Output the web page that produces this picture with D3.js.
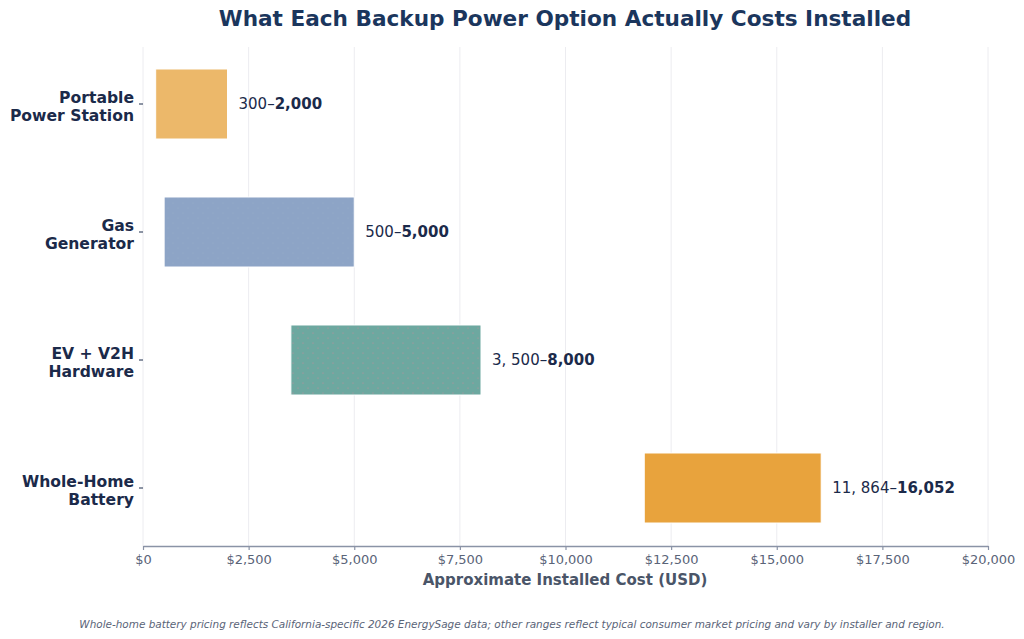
<!DOCTYPE html>
<html>
<head>
    <meta charset="utf-8">
    <title>Backup Power Costs</title>
    <script src="https://d3js.org/d3.v7.min.js"></script>
    <style>
        html, body { margin: 0; padding: 0; background: white; }
        svg { display: block; font-family: "DejaVu Sans", sans-serif; }
    </style>
</head>
<body>
    <div id="chart"></div>
    <script>
        // data
        const options = ["Portable Power Station", "Gas Generator", "EV + V2H Hardware", "Whole-Home Battery"];
        const optionLines = [["Portable", "Power Station"], ["Gas", "Generator"], ["EV + V2H", "Hardware"], ["Whole-Home", "Battery"]];
        const lowCost = [300, 500, 3500, 11864];
        const highCost = [2000, 5000, 8000, 16052];
        const lowLabels = ["300–", "500–", "3, 500–", "11, 864–"];
        const highLabels = ["2,000", "5,000", "8,000", "16,052"];
        const barColors = ["#ECB86A", "#8DA4C6", "#6DA8A0", "#E8A33D"];
        const xTicks = [0, 2500, 5000, 7500, 10000, 12500, 15000, 17500, 20000];

        const W = 1024, H = 639;
        const margin = { top: 47, right: 36, bottom: 93, left: 143 };
        const plotBottom = H - margin.bottom;

        const svg = d3.select("#chart").append("svg")
            .attr("width", W).attr("height", H);

        svg.append("rect").attr("width", W).attr("height", H).attr("fill", "white");

        // faint dot patterns seen in two of the bars
        const defs = svg.append("defs");
        const pat = defs.append("pattern").attr("id", "dotsEV")
            .attr("patternUnits", "userSpaceOnUse").attr("width", 10).attr("height", 10);
        pat.append("rect").attr("width", 10).attr("height", 10).attr("fill", "#6DA8A0");
        pat.append("circle").attr("cx", 3).attr("cy", 3).attr("r", 0.6).attr("fill", "#C98A9A");
        pat.append("circle").attr("cx", 8).attr("cy", 8).attr("r", 0.6).attr("fill", "#C98A9A");
        const pat2 = defs.append("pattern").attr("id", "dotsGas")
            .attr("patternUnits", "userSpaceOnUse").attr("width", 10).attr("height", 10);
        pat2.append("rect").attr("width", 10).attr("height", 10).attr("fill", "#8DA4C6");
        pat2.append("circle").attr("cx", 3).attr("cy", 3).attr("r", 0.6).attr("fill", "#98B0C8");
        pat2.append("circle").attr("cx", 8).attr("cy", 8).attr("r", 0.6).attr("fill", "#98B0C8");
        const fills = [barColors[0], "url(#dotsGas)", "url(#dotsEV)", barColors[3]];

        const x = d3.scaleLinear().domain([0, 20000]).range([143, 988]);
        const y = d3.scaleBand().domain(options).range([40, 552])
            .paddingInner(0.453).paddingOuter(0.2265);

        // gridlines
        svg.append("g").selectAll("line").data(xTicks).enter().append("line")
            .attr("x1", d => x(d)).attr("x2", d => x(d))
            .attr("y1", margin.top).attr("y2", plotBottom)
            .attr("stroke", "#ECECF0").attr("stroke-width", 1);

        // x axis
        const xAxis = svg.append("g")
            .attr("transform", `translate(0,${plotBottom})`)
            .call(d3.axisBottom(x).tickValues(xTicks)
                .tickFormat(d => "$" + d3.format(",")(d))
                .tickSize(4).tickPadding(5).tickSizeOuter(0));
        xAxis.select(".domain").attr("stroke", "#8A93A6").attr("stroke-width", 1.5);
        xAxis.selectAll(".tick line").attr("stroke", "#8A93A6").attr("stroke-width", 1.2);
        xAxis.selectAll(".tick text").attr("fill", "#5A6478")
            .style("font-size", "13px").style("font-family", "DejaVu Sans");

        // y axis ticks and labels
        const yAxis = svg.append("g").selectAll("g").data(options).enter().append("g")
            .attr("transform", d => `translate(0,${y(d) + y.bandwidth() / 2})`);
        yAxis.append("line").attr("x1", 139).attr("x2", 143)
            .attr("stroke", "#1B2A4A").attr("stroke-width", 1);
        yAxis.append("text")
            .attr("text-anchor", "end")
            .attr("fill", "#1B2A4A")
            .style("font-size", "15.6px").style("font-weight", "bold")
            .each(function (d, i) {
                const t = d3.select(this);
                optionLines[i].forEach((ln, j) => {
                    t.append("tspan").attr("x", 134)
                        .attr("y", j === 0 ? -1.5 : 16.5)
                        .text(ln);
                });
            });

        // bars
        svg.append("g").selectAll("rect").data(options).enter().append("rect")
            .attr("x", (d, i) => x(lowCost[i]))
            .attr("y", d => y(d))
            .attr("width", (d, i) => x(highCost[i]) - x(lowCost[i]))
            .attr("height", y.bandwidth())
            .attr("fill", (d, i) => fills[i])
            .attr("stroke", "white").attr("stroke-width", 1);

        // range labels
        const lbl = svg.append("g").selectAll("text").data(options).enter().append("text")
            .attr("x", (d, i) => x(highCost[i]) + 11)
            .attr("y", d => y(d) + y.bandwidth() / 2)
            .attr("dy", "0.35em")
            .attr("fill", "#1B2A4A")
            .style("font-size", "15px");
        lbl.append("tspan").text((d, i) => lowLabels[i]);
        lbl.append("tspan").style("font-weight", "bold").text((d, i) => highLabels[i]);

        // title
        svg.append("text")
            .attr("x", 565).attr("y", 26)
            .attr("text-anchor", "middle")
            .attr("fill", "#1B365D")
            .style("font-size", "21.6px").style("font-weight", "bold")
            .text("What Each Backup Power Option Actually Costs Installed");

        // x axis label
        svg.append("text")
            .attr("x", 565).attr("y", 585)
            .attr("text-anchor", "middle")
            .attr("fill", "#4A5568")
            .style("font-size", "15px").style("font-weight", "bold")
            .text("Approximate Installed Cost (USD)");

        // footnote
        svg.append("text")
            .attr("x", 512).attr("y", 628)
            .attr("text-anchor", "middle")
            .attr("fill", "#5A6478")
            .style("font-size", "10.45px").style("font-style", "italic")
            .text("Whole-home battery pricing reflects California-specific 2026 EnergySage data; other ranges reflect typical consumer market pricing and vary by installer and region.");
    </script>
</body>
</html>
